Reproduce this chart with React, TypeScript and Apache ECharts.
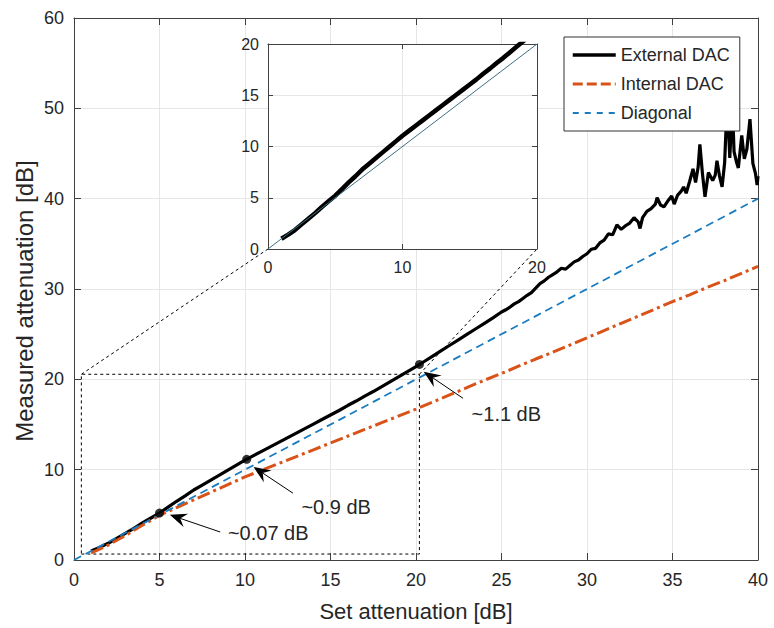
import React, { useEffect, useRef } from "react";
import * as echarts from "echarts";

// ---------- data ----------
const extX = [
  1, 1.5, 2, 2.5, 3, 3.5, 4, 4.5, 5, 5.5, 6, 6.5, 7, 7.5, 8, 8.5, 9, 9.5, 10, 10.5,
  11, 11.5, 12, 12.5, 13, 13.5, 14, 14.5, 15, 15.5, 16, 16.5, 17, 17.5, 18, 18.5, 19, 19.5, 20, 20.5,
  21, 21.5, 22, 22.5, 23, 23.5, 24, 24.5, 25,
  25.25, 25.5, 25.75, 26, 26.25, 26.5, 26.75, 27, 27.25, 27.5, 27.75, 28, 28.25, 28.5, 28.75, 29,
  29.25, 29.5, 29.75, 30, 30.25, 30.5, 30.75, 31, 31.25, 31.5, 31.75, 32, 32.25, 32.5, 32.75, 33,
  33.1, 33.25, 33.5, 33.75, 34, 34.1, 34.3, 34.5, 34.75, 34.95, 35.1, 35.3, 35.5, 35.65, 35.8, 36,
  36.2, 36.35, 36.5, 36.6, 36.75, 36.9, 37.1, 37.35, 37.5, 37.6, 37.75, 37.9, 38.05, 38.2, 38.35,
  38.5, 38.6, 38.75, 38.85, 39.05, 39.2, 39.35, 39.53, 39.7, 39.85, 39.95, 40,
];
const extY = [
  1.0, 1.4, 1.85, 2.4, 2.95, 3.5, 4.1, 4.65, 5.2, 5.85, 6.5, 7.1, 7.75, 8.3, 8.85, 9.4, 9.95, 10.5, 11.05, 11.55,
  12.05, 12.55, 13.05, 13.55, 14.05, 14.55, 15.05, 15.55, 16.05, 16.55, 17.1, 17.6, 18.15, 18.65, 19.2, 19.75, 20.3, 20.85, 21.4, 22.0,
  22.6, 23.2, 23.8, 24.4, 25.0, 25.6, 26.2, 26.8, 27.45,
  27.7, 28.0, 28.35, 28.6, 28.95, 29.3, 29.6, 30.1, 30.6, 30.9, 31.3, 31.6, 31.9, 32.3, 32.2, 32.6,
  33.0, 33.2, 33.6, 33.9, 34.4, 34.5, 35.1, 35.4, 36.1, 36.0, 37.1, 36.6, 37.0, 37.3, 37.9, 37.4,
  36.7, 37.9, 38.6, 38.9, 39.4, 40.1, 39.3, 39.1, 39.8, 40.3, 39.4, 40.4, 40.8, 41.3, 40.6, 41.9,
  43.3, 41.8, 43.5, 46.0, 42.8, 40.2, 42.9, 42.0, 42.6, 44.2, 42.5, 41.3, 44.0, 51.0, 44.5,
  50.5, 45.2, 44.0, 43.4, 47.0, 44.4, 45.5, 48.8, 43.9, 42.8, 41.5, 42.5,
];
const intX = [
  1, 1.5, 2, 3, 4, 5, 6, 7, 8, 9, 10, 11, 12, 13, 14, 15, 16, 17, 18, 19, 20,
  21, 22, 23, 24, 25, 26, 27, 28, 29, 30, 31, 32, 33, 34, 35, 36, 37, 38, 39, 40,
];
const intY = [
  0.8, 1.2, 1.65, 2.7, 3.85, 4.95, 5.8, 6.65, 7.5, 8.35, 9.2, 9.95, 10.7, 11.45, 12.2, 12.95, 13.7, 14.45, 15.2, 15.95, 16.7,
  17.5, 18.3, 19.1, 19.9, 20.65, 21.45, 22.25, 23.0, 23.8, 24.6, 25.4, 26.2, 27.0, 27.8, 28.6, 29.35, 30.15, 30.9, 31.7, 32.5,
];
const diagX = [0, 40];
const diagY = [0, 40];
const insetDiagX = [0, 20];
const insetDiagY = [0, 20];
const dotX = [5, 10.1, 20.2];
const dotY = [5.2, 11.15, 21.65];
const zoomBoxX = [0.43, 20.2];
const zoomBoxY = [0.66, 20.56];
const arrowTipX = [5.6, 10.5, 20.45];
const arrowTipY = [5.0, 10.3, 20.85];
const arrowTailX = [8.55, 12.8, 22.75];
const arrowTailY = [3.1, 7.4, 17.9];
const arrowLabels = ["~0.07 dB", "~0.9 dB", "~1.1 dB"];
const labelX = [9.0, 13.3, 23.25];
const labelY = [3.0, 5.9, 16.15];
const seriesNames = ["External DAC", "Internal DAC", "Diagonal"];
const xTitle = "Set attenuation [dB]";
const yTitle = "Measured attenuation [dB]";

const FONT = "'Liberation Sans', Arial, Helvetica, sans-serif";
const TXT = "#262626";
const AX = "#404040";
const GRIDC = "#e6e6e6";
const HIDDEN_SYMBOL = { color: "rgba(0,0,0,0)", borderWidth: 0, opacity: 0 };

function pairs(xs: number[], ys: number[]) {
  return xs.map((x, i) => [x, ys[i]]);
}

function axis(o: any) {
  return {
    type: "value",
    gridIndex: o.grid,
    position: o.position,
    min: o.min,
    max: o.max,
    interval: o.interval,
    z: o.z ?? 0,
    axisLine: { show: true, onZero: false, lineStyle: { color: AX, width: 1 } },
    axisTick: { show: true, inside: true, length: o.tick ?? 7, lineStyle: { color: AX, width: 1 } },
    axisLabel: o.labels
      ? { show: true, fontSize: o.fontSize, color: TXT, fontFamily: FONT, margin: o.margin }
      : { show: false },
    splitLine: { show: !!o.split, lineStyle: { color: GRIDC, width: 1 } },
  };
}

export default function App() {
  const ref = useRef<HTMLDivElement>(null);
  useEffect(() => {
    const chart = echarts.init(ref.current!, undefined, { renderer: "svg" });
    const ext = pairs(extX, extY);
    const inner = pairs(intX, intY);
    const insetExt = ext.filter((p) => p[0] <= 21);
    const box = [
      [zoomBoxX[0], zoomBoxY[0]],
      [zoomBoxX[1], zoomBoxY[0]],
      [zoomBoxX[1], zoomBoxY[1]],
      [zoomBoxX[0], zoomBoxY[1]],
      [zoomBoxX[0], zoomBoxY[0]],
    ];
    chart.setOption({
      animation: false,
      backgroundColor: "#fff",
      grid: [
        { left: 74, top: 18, width: 684, height: 542 },
        { left: 268, top: 44, width: 269, height: 205 },
      ],
      xAxis: [
        axis({ grid: 0, position: "bottom", min: 0, max: 40, interval: 5, labels: true, fontSize: 18, margin: 11, split: true }),
        axis({ grid: 0, position: "top", min: 0, max: 40, interval: 5 }),
        axis({ grid: 1, position: "bottom", min: 0, max: 20, interval: 10, labels: true, fontSize: 16, margin: 10, split: true, z: 2, tick: 5 }),
        axis({ grid: 1, position: "top", min: 0, max: 20, interval: 10, z: 2, tick: 5 }),
      ],
      yAxis: [
        axis({ grid: 0, position: "left", min: 0, max: 60, interval: 10, labels: true, fontSize: 18, margin: 10, split: true }),
        axis({ grid: 0, position: "right", min: 0, max: 60, interval: 10 }),
        axis({ grid: 1, position: "left", min: 0, max: 20, interval: 5, labels: true, fontSize: 16, margin: 9, split: true, z: 2, tick: 5 }),
        axis({ grid: 1, position: "right", min: 0, max: 20, interval: 5, z: 2, tick: 5 }),
      ],
      legend: {
        show: true,
        orient: "vertical",
        left: 564,
        top: 37,
        itemWidth: 43,
        itemHeight: 14,
        itemGap: 11,
        padding: [9, 10, 9, 7],
        backgroundColor: "#fff",
        borderColor: "#333",
        borderWidth: 1,
        borderRadius: 0,
        textStyle: { fontSize: 18, color: TXT, fontFamily: FONT },
        itemStyle: HIDDEN_SYMBOL,
        data: [
          { name: seriesNames[0], itemStyle: HIDDEN_SYMBOL, lineStyle: { width: 3.5 } },
          { name: seriesNames[1], itemStyle: HIDDEN_SYMBOL, lineStyle: { type: [10, 4], width: 3 } },
          { name: seriesNames[2], itemStyle: HIDDEN_SYMBOL, lineStyle: { type: [6, 6], width: 2 } },
        ],
      },
      series: [
        {
          name: "zoombox",
          type: "line",
          xAxisIndex: 0,
          yAxisIndex: 0,
          data: box,
          symbol: "none",
          silent: true,
          lineStyle: { color: "#000", width: 1, type: [3, 3] },
          z: 1,
        },
        {
          name: seriesNames[0],
          type: "line",
          xAxisIndex: 0,
          yAxisIndex: 0,
          data: ext,
          symbol: "none",
          color: "#000",
          lineStyle: { color: "#000", width: 3.2 },
          z: 2,
        },
        {
          name: seriesNames[1],
          type: "line",
          xAxisIndex: 0,
          yAxisIndex: 0,
          data: inner,
          symbol: "none",
          color: "#D95319",
          lineStyle: { color: "#D95319", width: 3, type: [13, 4, 3, 4] },
          z: 3,
        },
        {
          name: seriesNames[2],
          type: "line",
          xAxisIndex: 0,
          yAxisIndex: 0,
          data: pairs(diagX, diagY),
          symbol: "none",
          color: "#1a7cc0",
          lineStyle: { color: "#1a7cc0", width: 1.8, type: [8, 5] },
          z: 4,
        },
        {
          name: "markers",
          type: "scatter",
          xAxisIndex: 0,
          yAxisIndex: 0,
          data: pairs(dotX, dotY),
          symbol: "circle",
          symbolSize: 9,
          itemStyle: { color: "#000" },
          z: 5,
        },
        {
          name: "insetExt",
          type: "line",
          xAxisIndex: 2,
          yAxisIndex: 2,
          data: insetExt,
          symbol: "none",
          clip: true,
          lineStyle: { color: "#000", width: 4.5 },
          z: 6,
        },
        {
          name: "insetDiag",
          type: "line",
          xAxisIndex: 2,
          yAxisIndex: 2,
          data: pairs(insetDiagX, insetDiagY),
          symbol: "none",
          clip: true,
          lineStyle: { color: "#3d6e85", width: 1 },
          z: 7,
        },
      ],
    });

    const toMain = (x: number, y: number) =>
      chart.convertToPixel({ xAxisIndex: 0, yAxisIndex: 0 }, [x, y]) as number[];
    const toInset = (x: number, y: number) =>
      chart.convertToPixel({ xAxisIndex: 2, yAxisIndex: 2 }, [x, y]) as number[];

    const g: any[] = [];
    const i0 = toInset(0, 20);
    const i1 = toInset(20, 0);
    g.push({
      type: "rect",
      z: 1,
      shape: { x: i0[0], y: i0[1], width: i1[0] - i0[0], height: i1[1] - i0[1] },
      style: { fill: "#fff" },
    });
    const c1a = toMain(zoomBoxX[0], zoomBoxY[1]);
    const c1b = toInset(0, 0);
    const c2a = toMain(zoomBoxX[1], zoomBoxY[1]);
    const c2b = toInset(20, 0);
    [[c1a, c1b], [c2a, c2b]].forEach(([a, b]) => {
      g.push({
        type: "line",
        z: 1,
        shape: { x1: a[0], y1: a[1], x2: b[0], y2: b[1] },
        style: { stroke: "#000", lineWidth: 1, lineDash: [3, 3] },
      });
    });
    for (let i = 0; i < arrowLabels.length; i++) {
      const tip = toMain(arrowTipX[i], arrowTipY[i]);
      const tail = toMain(arrowTailX[i], arrowTailY[i]);
      const dx = tip[0] - tail[0];
      const dy = tip[1] - tail[1];
      const len = Math.hypot(dx, dy);
      const ux = dx / len;
      const uy = dy / len;
      const nx = -uy;
      const ny = ux;
      const L = 17;
      const W = 7;
      const N = 11;
      const notch = [tip[0] - N * ux, tip[1] - N * uy];
      g.push({
        type: "line",
        z: 10,
        shape: { x1: tail[0], y1: tail[1], x2: notch[0], y2: notch[1] },
        style: { stroke: "#000", lineWidth: 1 },
      });
      g.push({
        type: "polygon",
        z: 10,
        shape: {
          points: [
            tip,
            [tip[0] - L * ux + W * nx, tip[1] - L * uy + W * ny],
            notch,
            [tip[0] - L * ux - W * nx, tip[1] - L * uy - W * ny],
          ],
        },
        style: { fill: "#000" },
      });
      const lp = toMain(labelX[i], labelY[i]);
      g.push({
        type: "text",
        z: 10,
        x: lp[0],
        y: lp[1],
        style: {
          text: arrowLabels[i],
          fill: TXT,
          fontSize: 20,
          fontFamily: FONT,
          textAlign: "left",
          textVerticalAlign: "middle",
        },
      });
    }
    g.push({
      type: "text",
      z: 10,
      x: 416,
      y: 611,
      style: { text: xTitle, fill: TXT, fontSize: 22, fontFamily: FONT, textAlign: "center", textVerticalAlign: "middle" },
    });
    g.push({
      type: "text",
      z: 10,
      x: 24.5,
      y: 301,
      rotation: Math.PI / 2,
      style: { text: yTitle, fill: TXT, fontSize: 24, fontFamily: FONT, textAlign: "center", textVerticalAlign: "middle" },
    });
    chart.setOption({ graphic: g });

    return () => chart.dispose();
  }, []);
  return (
    <div
      ref={ref}
      style={{ position: "absolute", left: 0, top: 0, width: 774, height: 628, background: "#fff" }}
    />
  );
}
